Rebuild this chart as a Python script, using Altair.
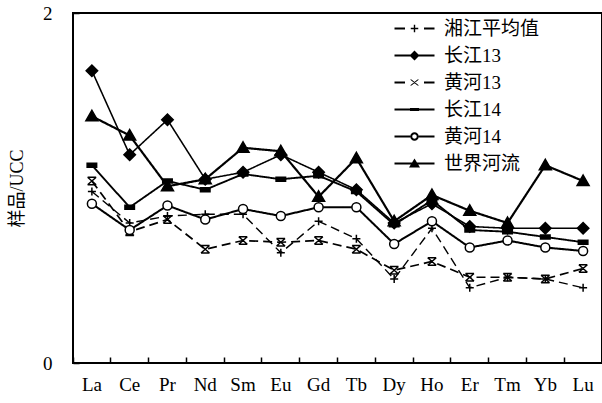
import altair as alt
import pandas as pd

# ---- data ----
elements = ["La", "Ce", "Pr", "Nd", "Sm", "Eu", "Gd", "Tb", "Dy", "Ho", "Er", "Tm", "Yb", "Lu"]
series_names = ["湘江平均值", "长江13", "黄河13", "长江14", "黄河14", "世界河流"]

xiangjiang_avg = [0.98, 0.80, 0.84, 0.85, 0.85, 0.63, 0.81, 0.71, 0.48, 0.77, 0.43, 0.49, 0.48, 0.43]
changjiang13 = [1.67, 1.19, 1.39, 1.05, 1.09, 1.19, 1.09, 0.99, 0.80, 0.91, 0.78, 0.77, 0.77, 0.77]
huanghe13 = [1.04, 0.75, 0.82, 0.65, 0.70, 0.69, 0.70, 0.65, 0.53, 0.58, 0.49, 0.49, 0.48, 0.54]
changjiang14 = [1.13, 0.89, 1.04, 0.99, 1.08, 1.05, 1.07, 0.98, 0.79, 0.93, 0.76, 0.75, 0.72, 0.69]
huanghe14 = [0.91, 0.76, 0.90, 0.82, 0.88, 0.84, 0.89, 0.89, 0.68, 0.81, 0.66, 0.70, 0.66, 0.64]
world_rivers = [1.41, 1.30, 1.01, 1.05, 1.23, 1.21, 0.95, 1.17, 0.81, 0.96, 0.87, 0.80, 1.13, 1.04]

y_ticks = [0, 1, 2]

all_values = [xiangjiang_avg, changjiang13, huanghe13, changjiang14, huanghe14, world_rivers]
rows = []
for name, vals in zip(series_names, all_values):
    for el, v in zip(elements, vals):
        rows.append({"element": el, "value": v, "series": name})
df = pd.DataFrame(rows)

# ---- styles ----
FONT = "Liberation Serif, Noto Sans CJK SC"

dash_range = [[9, 5], [1, 0], [9, 5], [1, 0], [1, 0], [1, 0]]
width_range = [1.4, 2.2, 1.4, 2.2, 1.5, 2.2]
fill_range = ["black", "black", "black", "black", "white", "black"]

# marker shapes for the data points (unit ~ 5 px at size 100)
plus_p = "M-0.8,0H0.8M0,-0.8V0.8"
diamond_p = "M-1.15,0L0,-1.15L1.15,0L0,1.15Z"
xbar_p = "M-0.85,-0.75L0.85,0.75M-0.85,0.75L0.85,-0.75M-0.85,-0.75H0.85M-0.85,0.75H0.85"
bar_p = "M-0.95,-0.4H0.95V0.4H-0.95Z"
circle_p = "M-0.9,0A0.9 0.9 0 1 0 0.9,0A0.9 0.9 0 1 0 -0.9,0Z"
tri_p = "M0,-1.2L1.2,0.9H-1.2Z"
point_shapes = [plus_p, diamond_p, xbar_p, bar_p, circle_p, tri_p]

# legend symbols drawn with filled outlines only (line sample + marker)
seg_full = "M-4,-0.2H4V0.2H-4Z"
seg_left = "M-4,-0.2H-1.9V0.2H-4Z"
seg_right = "M1.9,-0.2H4V0.2H1.9Z"
seg_left_c = "M-4,-0.2H-0.85V0.2H-4Z"
seg_right_c = "M0.85,-0.2H4V0.2H0.85Z"
lg_plus = "M-0.75,-0.14H0.75V0.14H-0.75Z" + "M-0.14,-0.75H0.14V0.75H-0.14Z"
lg_diamond = "M-1,0L0,-1L1,0L0,1Z"
lg_x = "M-0.9,-0.6H-0.6L0.9,0.6H0.6Z" + "M0.6,-0.6H0.9L-0.6,0.6H-0.9Z"
lg_bar = "M-0.9,-0.32H0.9V0.32H-0.9Z"
lg_ring = ("M-0.85,0A0.85 0.85 0 1 0 0.85,0A0.85 0.85 0 1 0 -0.85,0Z"
           "M-0.45,0A0.45 0.45 0 1 1 0.45,0A0.45 0.45 0 1 1 -0.45,0Z")
lg_tri = "M0,-1L1.1,0.8H-1.1Z"
legend_shapes = [
    seg_left + seg_right + lg_plus,
    seg_full + lg_diamond,
    seg_left + seg_right + lg_x,
    seg_full + lg_bar,
    seg_left_c + seg_right_c + lg_ring,
    seg_full + lg_tri,
]

x_enc = alt.X(
    "element:N",
    sort=elements,
    scale=alt.Scale(type="band", domain=elements, paddingInner=0, paddingOuter=0),
    axis=alt.Axis(
        title=None, bandPosition=0, offset=-6, tickSize=6, tickWidth=1.5,
        tickColor="black", domain=False, labelAngle=0, labelPadding=12,
        labelFont=FONT, labelFontSize=19, labelColor="black",
    ),
)
y_enc = alt.Y(
    "value:Q",
    scale=alt.Scale(domain=[0, 2], nice=False, zero=True),
    axis=alt.Axis(
        values=y_ticks, format="d", offset=-6, tickSize=6, tickWidth=1.5, tickColor="black",
        domain=False, grid=False, labelPadding=21, labelFont=FONT,
        labelFontSize=19, labelColor="black", title="样品/UCC",
        titleFont=FONT, titleFontSize=18, titleFontWeight="normal",
        titleColor="black", titlePadding=16,
    ),
)

base = alt.Chart(df)

lines = base.mark_line(color="black").encode(
    x=x_enc,
    y=y_enc,
    detail="series:N",
    strokeDash=alt.StrokeDash("series:N", scale=alt.Scale(domain=series_names, range=dash_range), legend=None),
    strokeWidth=alt.StrokeWidth("series:N", scale=alt.Scale(domain=series_names, range=width_range), legend=None),
)

points = base.mark_point(filled=True, opacity=1, size=100, strokeWidth=1.5).encode(
    x=x_enc,
    y=y_enc,
    shape=alt.Shape("series:N", scale=alt.Scale(domain=series_names, range=point_shapes), legend=None),
    fill=alt.Fill("series:N", scale=alt.Scale(domain=series_names, range=fill_range), legend=None),
    stroke=alt.value("black"),
)

legend_layer = base.transform_filter("false").mark_point(
    filled=True, opacity=1, size=100, color="black"
).encode(
    shape=alt.Shape(
        "series:N",
        scale=alt.Scale(domain=series_names, range=legend_shapes),
        legend=alt.Legend(
            title=None, orient="none", legendX=332, legendY=6, padding=0,
            symbolSize=100, symbolFillColor="black", symbolOpacity=1,
            labelFont=FONT, labelFontSize=19, labelColor="black",
            labelOffset=20, rowPadding=7,
        ),
    ),
)

chart = (
    alt.layer(lines, points, legend_layer)
    .resolve_scale(shape="independent")
    .properties(
        width=529, height=350,
        autosize=alt.AutoSizeParams(type="none"),
        padding={"left": 73, "top": 13, "right": 0, "bottom": 40},
        background="white",
    )
    .configure_view(stroke="black", strokeWidth=2)
)

chart.save("out.html", embed_options={"renderer": "svg", "actions": False})
